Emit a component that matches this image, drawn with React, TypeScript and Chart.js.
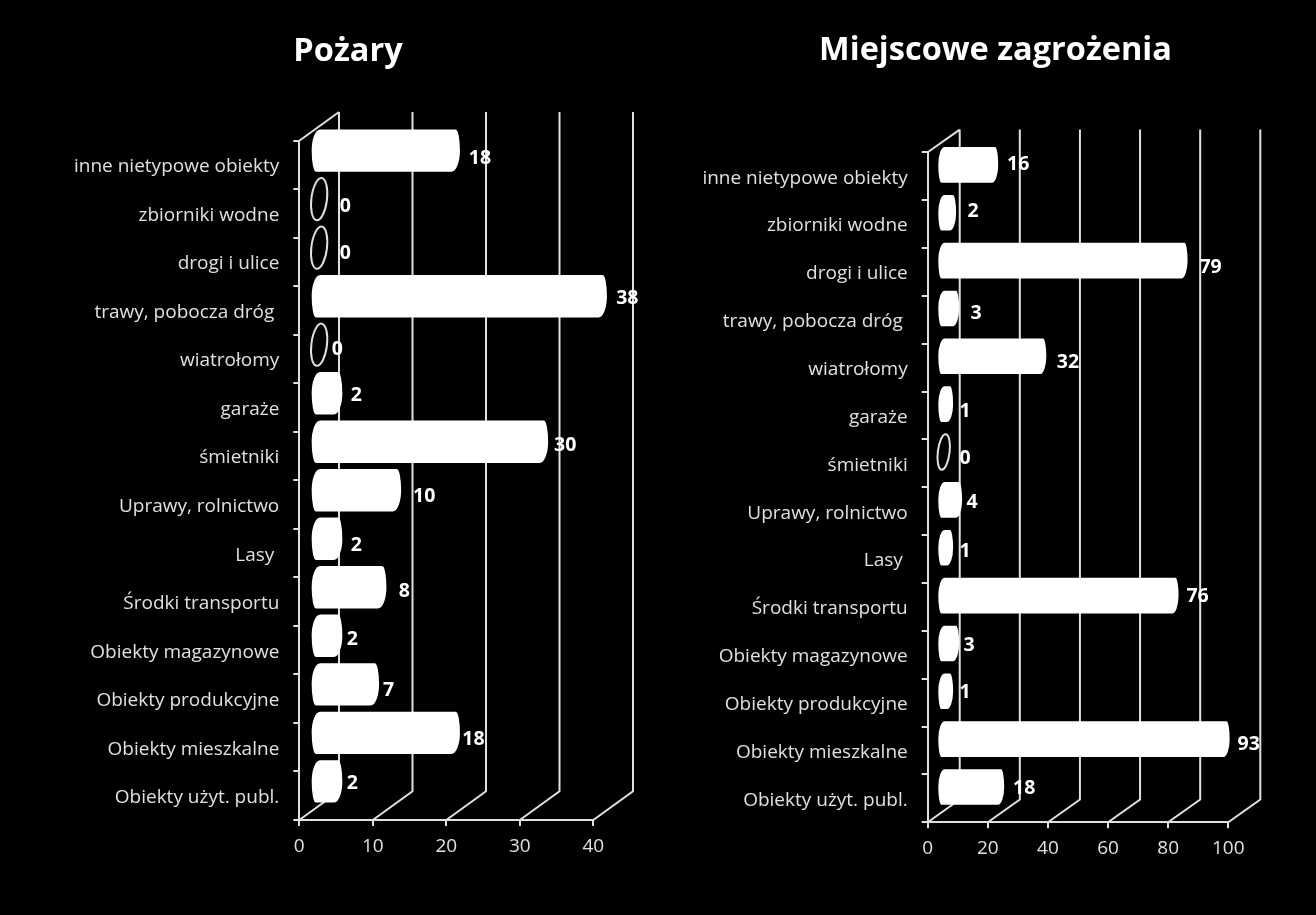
import React, { useEffect, useRef } from "react";
import { Chart, registerables } from "chart.js";

Chart.register(...registerables);

const categories = [
  "inne nietypowe obiekty",
  "zbiorniki wodne",
  "drogi i ulice",
  "trawy, pobocza dróg ",
  "wiatrołomy",
  "garaże",
  "śmietniki",
  "Uprawy, rolnictwo",
  "Lasy ",
  "Środki transportu",
  "Obiekty magazynowe",
  "Obiekty produkcyjne",
  "Obiekty mieszkalne",
  "Obiekty użyt. publ.",
];
const pozaryValues = [18, 0, 0, 38, 0, 2, 30, 10, 2, 8, 2, 7, 18, 2];
const zagrozeniaValues = [16, 2, 79, 3, 32, 1, 0, 4, 1, 76, 3, 1, 93, 18];
const pozaryTitle = "Pożary";
const zagrozeniaTitle = "Miejscowe zagrożenia";

// hand placement of the data labels relative to the bar end, as in the original slide
const pozaryLabelNudge: [number, number][] = [
  [20, 6.5], [17.7, 6], [17.7, 4.5], [20.4, 1], [9.7, 3.5], [14, 1], [17, 2.5],
  [23, 5], [14, 5.5], [18, 3], [10, 2.5], [9.5, 5], [13.5, 5.5], [10, 1],
];
const zagrozeniaLabelNudge: [number, number][] = [
  [20, -2], [17, -3], [23, 5.5], [17, 3.6], [21.6, 4.7], [12, 6], [15, 5],
  [10, 1], [12, 2.3], [19, -0.6], [10, 0], [12, 0], [19, 4], [20, 0],
];

const FONT = "'Open Sans'";
const LINE = "#e0e0e0";
const LABEL = "#e0e0e0";
const LW = 2;

type Cfg = {
  title: string;
  titleY: number;
  values: number[];
  nudge: [number, number][];
  max: number;
  step: number;
  canvasLeft: number;
  canvasWidth: number;
  plotLeft: number;
  plotRight: number;
  plotTop: number;
  plotBottom: number;
  depthX: number;
  depthY: number;
  barShare: number;
  capRatio: number;
  labelPad: number;
  labelShift: number;
};

const charts: Cfg[] = [
  {
    title: pozaryTitle, titleY: 51.5, values: pozaryValues, nudge: pozaryLabelNudge,
    max: 40, step: 10, canvasLeft: 0, canvasWidth: 696,
    plotLeft: 299.3, plotRight: 593.3, plotTop: 140.7, plotBottom: 820,
    depthX: 39.7, depthY: 28.7, barShare: 0.874, capRatio: 0.4, labelPad: 14, labelShift: 2,
  },
  {
    title: zagrozeniaTitle, titleY: 50.5, values: zagrozeniaValues, nudge: zagrozeniaLabelNudge,
    max: 100, step: 20, canvasLeft: 696, canvasWidth: 599,
    plotLeft: 927.7, plotRight: 1228.3, plotTop: 152.3, plotBottom: 822.3,
    depthX: 32, depthY: 22.7, barShare: 0.744, capRatio: 0.36, labelPad: 14, labelShift: 2,
  },
];

const TILT = 0.12;

function cylinderPlugin(cfg: Cfg) {
  return {
    id: "cylinder3d",
    afterLayout(chart: any) {
      // centre the title over the whole canvas rather than over the padded width
      if (chart.titleBlock) {
        chart.titleBlock.left = 0;
        chart.titleBlock.right = chart.width;
      }
    },
    beforeDatasetsDraw(chart: any) {
      const { ctx, chartArea: a, scales } = chart;
      const x = scales.x;
      ctx.save();
      ctx.strokeStyle = LINE;
      ctx.lineWidth = LW;
      ctx.beginPath();
      // top-left edge of the side wall
      ctx.moveTo(a.left, a.top);
      ctx.lineTo(a.left + cfg.depthX, a.top - cfg.depthY);
      for (let v = 0; v <= cfg.max; v += cfg.step) {
        const px = x.getPixelForValue(v);
        ctx.moveTo(px, a.bottom);
        ctx.lineTo(px + cfg.depthX, a.bottom - cfg.depthY);
        ctx.lineTo(px + cfg.depthX, a.top - cfg.depthY);
      }
      ctx.stroke();
      ctx.restore();
    },
    afterDatasetsDraw(chart: any) {
      const { ctx } = chart;
      const bars = chart.getDatasetMeta(0).data;
      const ox = cfg.depthX / 2;
      const oy = -cfg.depthY / 2;
      ctx.save();
      bars.forEach((bar: any, i: number) => {
        const value = cfg.values[i];
        const ry = bar.height / 2;
        const rx = ry * cfg.capRatio;
        const cy = bar.y + oy;
        const x0 = bar.base + ox;
        const x1 = bar.x + ox;
        if (value === 0) {
          const er = rx * 0.92;
          ctx.beginPath();
          ctx.ellipse(x0, cy, er, ry, TILT, 0, Math.PI * 2);
          ctx.fillStyle = "#000";
          ctx.fill();
          ctx.strokeStyle = LINE;
          ctx.lineWidth = LW;
          ctx.stroke();
        } else {
          // top and bottom corners of each end cap sit apart, as on a tilted cylinder
          const topL = x0;
          const botL = x0 - 0.5 * rx;
          const topR = x1 + 0.5 * rx;
          const botR = x1;
          const bulgeR = x1 + rx;
          const bulgeL = x0 - rx;
          ctx.fillStyle = "#fff";
          ctx.beginPath();
          ctx.moveTo(topL, cy - ry);
          ctx.lineTo(topR, cy - ry);
          ctx.ellipse(topR, cy, bulgeR - topR, ry, 0, -Math.PI / 2, 0);
          ctx.ellipse(botR, cy, bulgeR - botR, ry, 0, 0, Math.PI / 2);
          ctx.lineTo(botL, cy + ry);
          ctx.ellipse(botL, cy, botL - bulgeL, ry, 0, Math.PI / 2, Math.PI);
          ctx.ellipse(topL, cy, topL - bulgeL, ry, 0, Math.PI, Math.PI * 1.5);
          ctx.closePath();
          ctx.fill();
        }
        const [nx, ny] = cfg.nudge[i];
        ctx.fillStyle = "#fff";
        ctx.font = `bold 19.5px ${FONT}`;
        ctx.textAlign = "center";
        ctx.textBaseline = "middle";
        ctx.fillText(String(value), x1 + rx + nx, cy + ny + 1.5);
      });
      ctx.restore();
    },
  };
}

function OneChart({ cfg }: { cfg: Cfg }) {
  const ref = useRef<HTMLCanvasElement | null>(null);
  useEffect(() => {
    const canvas = ref.current;
    if (!canvas) return;
    const titleFont = 32.5;
    const titleLine = titleFont * 1.2;
    const titleTop = cfg.titleY - titleLine / 2;
    const side = cfg.canvasLeft + cfg.canvasWidth - cfg.plotRight;
    const chart = new Chart(canvas, {
      type: "bar",
      data: {
        labels: categories,
        datasets: [
          {
            data: cfg.values,
            backgroundColor: "rgba(0,0,0,0)",
            borderWidth: 0,
            barPercentage: 1,
            categoryPercentage: cfg.barShare,
          },
        ],
      },
      plugins: [cylinderPlugin(cfg)],
      options: {
        indexAxis: "y",
        responsive: false,
        animation: false,
        layout: { padding: { left: 0, top: 0, bottom: 0, right: side } },
        plugins: {
          legend: { display: false },
          tooltip: { enabled: false },
          title: {
            display: true,
            text: cfg.title,
            color: "#fff",
            font: { family: FONT, size: titleFont, weight: "bold", lineHeight: 1.2 },
            padding: { top: titleTop, bottom: cfg.plotTop - titleTop - titleLine },
          },
        },
        scales: {
          x: {
            type: "linear",
            position: "bottom",
            min: 0,
            max: cfg.max,
            ticks: { stepSize: cfg.step, color: LABEL, font: { family: FONT, size: 19 }, padding: 9, maxRotation: 0 },
            grid: { display: true, drawOnChartArea: false, drawTicks: true, tickLength: 6, color: LINE, lineWidth: LW },
            border: { display: true, color: LINE, width: LW },
            afterFit(s: any) { s.height = 915 - cfg.plotBottom; },
          },
          y: {
            type: "category",
            ticks: { color: LABEL, font: { family: FONT, size: 19 }, padding: cfg.labelPad, autoSkip: false, labelOffset: cfg.labelShift },
            grid: { display: true, drawOnChartArea: false, drawTicks: true, tickLength: 6, color: LINE, lineWidth: LW },
            border: { display: true, color: LINE, width: LW },
            afterFit(s: any) { s.width = cfg.plotLeft - cfg.canvasLeft; },
          },
        },
      },
    } as any);
    return () => chart.destroy();
  }, [cfg]);
  return (
    <canvas
      ref={ref}
      width={cfg.canvasWidth}
      height={915}
      style={{ position: "absolute", left: cfg.canvasLeft, top: 0, width: cfg.canvasWidth, height: 915, display: "block" }}
    />
  );
}

export default function App() {
  return (
    <div style={{ position: "fixed", left: 0, top: 0, width: 1316, height: 915, background: "#000", overflow: "hidden" }}>
      {charts.map((c) => (
        <OneChart key={c.title} cfg={c} />
      ))}
    </div>
  );
}
